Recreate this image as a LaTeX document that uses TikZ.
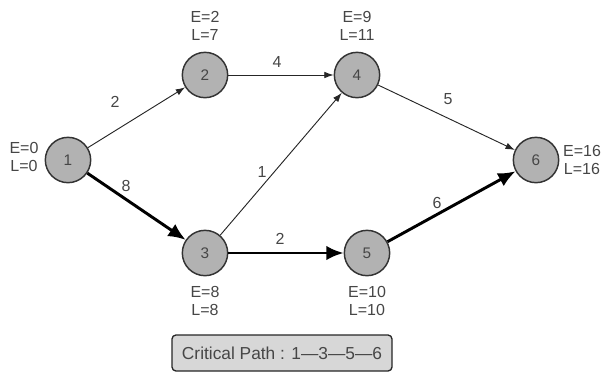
\documentclass[tikz,border=0pt]{standalone}
\usepackage{fontspec}
\setmainfont{Liberation Sans}
\usetikzlibrary{arrows.meta}
\definecolor{nodefill}{RGB}{178,178,178}
\definecolor{txt}{RGB}{70,70,70}
\definecolor{boxfill}{RGB}{215,215,215}
\tikzset{
  ev/.style={circle, draw=black!80, line width=1.1pt, fill=nodefill, minimum size=34pt, inner sep=0pt, font=\fontsize{11.5}{12}\selectfont, text=txt},
  lab/.style={font=\fontsize{12}{13.5}\selectfont, text=txt, align=center, inner sep=0pt},
  elab/.style={font=\fontsize{12}{13}\selectfont, text=txt, inner sep=1pt},
  thin/.style={draw=black!85, line width=0.7pt, -{Latex[length=7pt,width=5pt]}},
  crit/.style={draw=black, line width=2.2pt, -{Latex[length=13pt,width=11pt]}},
}
\begin{document}
\begin{tikzpicture}[x=0.75pt,y=-0.75pt]
\useasboundingbox (0,0) rectangle (607,372);
\node[ev] (n1) at (68,160) {1};
\node[ev] (n2) at (205,75) {2};
\node[ev] (n3) at (205,253) {3};
\node[ev] (n4) at (357,75) {4};
\node[ev] (n5) at (367,253) {5};
\node[ev] (n6) at (536,160) {6};
\node[lab] (l1) at (24,157) {E=0\\L=0};
\node[lab] (l2) at (205,26) {E=2\\L=7};
\node[lab] (l4) at (357,26) {E=9\\L=11};
\node[lab] (l6) at (582,160) {E=16\\L=16};
\node[lab] (l3) at (205,301) {E=8\\L=8};
\node[lab] (l5) at (367,301) {E=10\\L=10};
\draw[thin] (n1) -- (n2);
\draw[thin] (n2) -- (n4);
\draw[thin] (n3) -- (n4);
\draw[thin] (n4) -- (n6);
\draw[crit] (n1) -- (n3);
\draw[crit] (n3) -- (n5);
\draw[crit] (n5) -- (n6);
\node[elab] (e12) at (115,102) {2};
\node[elab] (e13) at (126,186) {8};
\node[elab] (e24) at (277,62) {4};
\node[elab] (e34) at (262,172) {1};
\node[elab] (e46) at (448,99) {5};
\node[elab] (e35) at (280,239) {2};
\node[elab] (e56) at (437,203) {6};
\node[draw=black!85, line width=1pt, fill=boxfill, rounded corners=3pt, minimum width=165pt, minimum height=27pt, font=\fontsize{13}{14}\selectfont, text=txt] (cp) at (282,353) {Critical Path : 1—3—5—6};
\end{tikzpicture}
\end{document}
